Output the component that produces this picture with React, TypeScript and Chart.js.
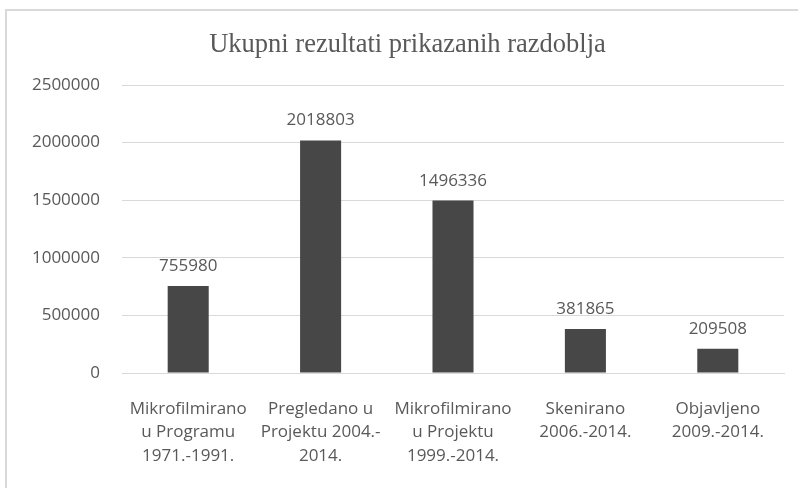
import React, { useEffect, useRef } from "react";
import { Chart, registerables } from "chart.js";

Chart.register(...registerables);

const TITLE = "Ukupni rezultati prikazanih razdoblja";
const categories: string[][] = [
  ["Mikrofilmirano", "u Programu", "1971.-1991."],
  ["Pregledano u", "Projektu 2004.-", "2014."],
  ["Mikrofilmirano", "u Projektu", "1999.-2014."],
  ["Skenirano", "2006.-2014."],
  ["Objavljeno", "2009.-2014."],
];
const values: number[] = [755980, 2018803, 1496336, 381865, 209508];
const yMin = 0;
const yMax = 2500000;
const yStep = 500000;

const TEXT = "#595959";
const GRID = "#d9d9d9";
const BAR = "#474747";
const SANS = "'Open Sans', 'Liberation Sans', sans-serif";

export default function App() {
  const ref = useRef<HTMLCanvasElement>(null);

  useEffect(() => {
    document.body.style.margin = "0";
    const canvas = ref.current!;
    const framePlugin = {
      id: "frame",
      beforeDraw(chart: any) {
        const ctx = chart.ctx;
        ctx.save();
        ctx.fillStyle = "#ffffff";
        ctx.fillRect(0, 0, chart.width, chart.height);
        ctx.strokeStyle = GRID;
        ctx.lineWidth = 2;
        ctx.strokeRect(6, 10, 1000, 1000);
        ctx.fillStyle = TEXT;
        ctx.font = "26.5px 'Liberation Serif', 'Times New Roman', serif";
        ctx.textAlign = "center";
        ctx.textBaseline = "alphabetic";
        ctx.fillText(TITLE, 407.5, 52);
        ctx.restore();
      },
    };
    const labelPlugin = {
      id: "valueLabels",
      afterDatasetsDraw(chart: any) {
        const ctx = chart.ctx;
        const meta = chart.getDatasetMeta(0);
        ctx.save();
        ctx.fillStyle = TEXT;
        ctx.font = "17px " + SANS;
        ctx.textAlign = "center";
        ctx.textBaseline = "alphabetic";
        meta.data.forEach((bar: any, i: number) => {
          ctx.fillText(String(values[i]), bar.x, bar.y - 15);
        });
        ctx.restore();
      },
    };
    const chart = new Chart(canvas, {
      type: "bar",
      data: {
        labels: categories,
        datasets: [
          {
            data: values,
            backgroundColor: BAR,
            borderWidth: 0,
            categoryPercentage: 1,
            barPercentage: 0.31,
          },
        ],
      },
      options: {
        responsive: false,
        animation: false,
        layout: { padding: { left: 0, right: 14, top: 85, bottom: 0 } },
        plugins: {
          legend: { display: false },
          title: { display: false },
          tooltip: { enabled: false },
        },
        scales: {
          x: {
            grid: { display: false, drawTicks: false },
            border: { display: true, color: GRID, width: 1 },
            ticks: {
              color: TEXT,
              font: { family: SANS, size: 17, lineHeight: "23.5px" },
              padding: 24,
              maxRotation: 0,
              autoSkip: false,
            },
            afterFit(scale: any) {
              scale.height = 115;
            },
          },
          y: {
            min: yMin,
            max: yMax,
            grid: { color: GRID, lineWidth: 1, drawTicks: false },
            border: { display: false },
            ticks: {
              stepSize: yStep,
              color: TEXT,
              font: { family: SANS, size: 17 },
              padding: 22,
              callback: (v: any) => String(v),
            },
            afterFit(scale: any) {
              scale.width = 122;
            },
          },
        },
      },
      plugins: [framePlugin, labelPlugin],
    } as any);
    return () => chart.destroy();
  }, []);

  return <canvas ref={ref} width={798} height={488} style={{ display: "block" }} />;
}
